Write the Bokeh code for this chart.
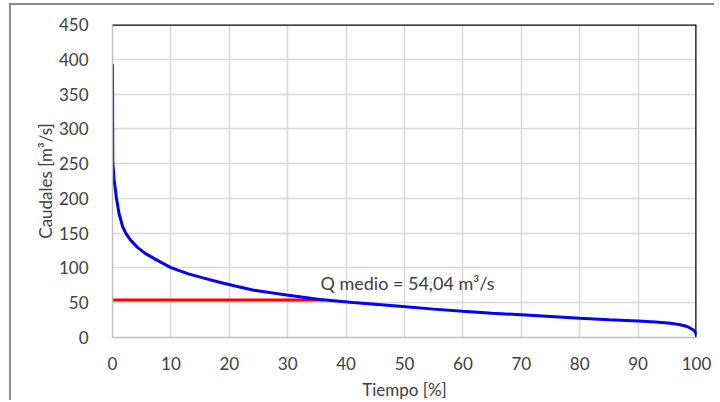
import numpy as np
from bokeh.plotting import figure
from bokeh.models import Span, FixedTicker, Range1d
from bokeh.core.properties import value
from bokeh.embed import file_html
from bokeh.resources import INLINE

# Flow duration curve
tiempo = [0, 0.05, 0.27, 0.68, 1.1, 1.7, 2.25, 3.1, 4.2, 5.6, 7.3, 10, 13, 15.8,
          18.5, 21, 24.2, 29.8, 35.5, 41.2, 49.7, 55, 60, 65, 70, 75, 80, 85,
          90, 93, 95.5, 97, 98.4, 99.5, 99.85, 100]
caudal = [393, 252, 227, 200, 179, 160, 150, 140, 130, 121, 112.7, 100.5, 91.5, 85,
          79, 74, 68, 61.2, 54.6, 50.2, 44.4, 40.8, 37.6, 35, 32.6, 30.2, 27.8, 25.6,
          23.7, 22.2, 20.5, 18.8, 15.8, 10.8, 7, 3]

q_medio = 54.04
label_text = "Q medio = 54,04 m\u00b3/s"
label_x = 35.6
label_y = 78

x_ticks = [0, 10, 20, 30, 40, 50, 60, 70, 80, 90, 100]
y_ticks = [0, 50, 100, 150, 200, 250, 300, 350, 400, 450]
x_title = "Tiempo [%]"
y_title = "Caudales [m\u00b3/s]"

FONT = "Lato"
TXT = "#404040"

# point where the curve meets the mean flow
x_cross = float(np.interp(q_medio, caudal[::-1], tiempo[::-1]))

p = figure(width=705, height=397, x_range=Range1d(0, 100), y_range=Range1d(0, 450),
           output_backend="svg", toolbar_location=None,
           min_border_left=101, min_border_right=20, min_border_top=19, min_border_bottom=65)
p.styles = {"margin-left": "9px", "margin-top": "3px",
            "border-left": "2px solid #8c8c8c", "border-top": "2px solid #8c8c8c"}
p.outline_line_color = None
p.background_fill_color = "white"
p.border_fill_color = "white"

for ax in (p.xaxis[0], p.yaxis[0]):
    ax.axis_line_color = "#bfbfbf"
    ax.axis_line_width = 1.5
    ax.major_tick_line_color = None
    ax.minor_tick_line_color = None
    ax.major_label_text_font = FONT
    ax.major_label_text_font_size = "17px"
    ax.major_label_text_color = TXT
    ax.axis_label_text_font = FONT
    ax.axis_label_text_font_size = "17px"
    ax.axis_label_text_font_style = "normal"
    ax.axis_label_text_color = TXT

p.xaxis.ticker = FixedTicker(ticks=x_ticks)
p.yaxis.ticker = FixedTicker(ticks=y_ticks)
p.xaxis.axis_label = x_title
p.yaxis.axis_label = y_title
p.xaxis.major_label_standoff = 13
p.xaxis.axis_label_standoff = 6
p.yaxis.major_label_standoff = 18
p.yaxis.axis_label_standoff = 0

p.xgrid.ticker = FixedTicker(ticks=x_ticks)
p.ygrid.ticker = FixedTicker(ticks=y_ticks)
p.grid.grid_line_color = "#d9d9d9"
p.grid.grid_line_width = 1.5

p.add_layout(Span(location=450, dimension="width", line_color="black", line_width=2.5))
p.add_layout(Span(location=100, dimension="height", line_color="black", line_width=2.5))

p.line([0, x_cross], [q_medio, q_medio], line_color="#ff0000", line_width=3)
p.line(tiempo, caudal, line_color="#0000ff", line_width=3)

p.text(x=[label_x], y=[label_y], text=[label_text], text_font=value(FONT),
       text_font_size="18px", text_color=TXT, text_align="left", text_baseline="middle")

open("out.html", "w").write(file_html(p, INLINE))
